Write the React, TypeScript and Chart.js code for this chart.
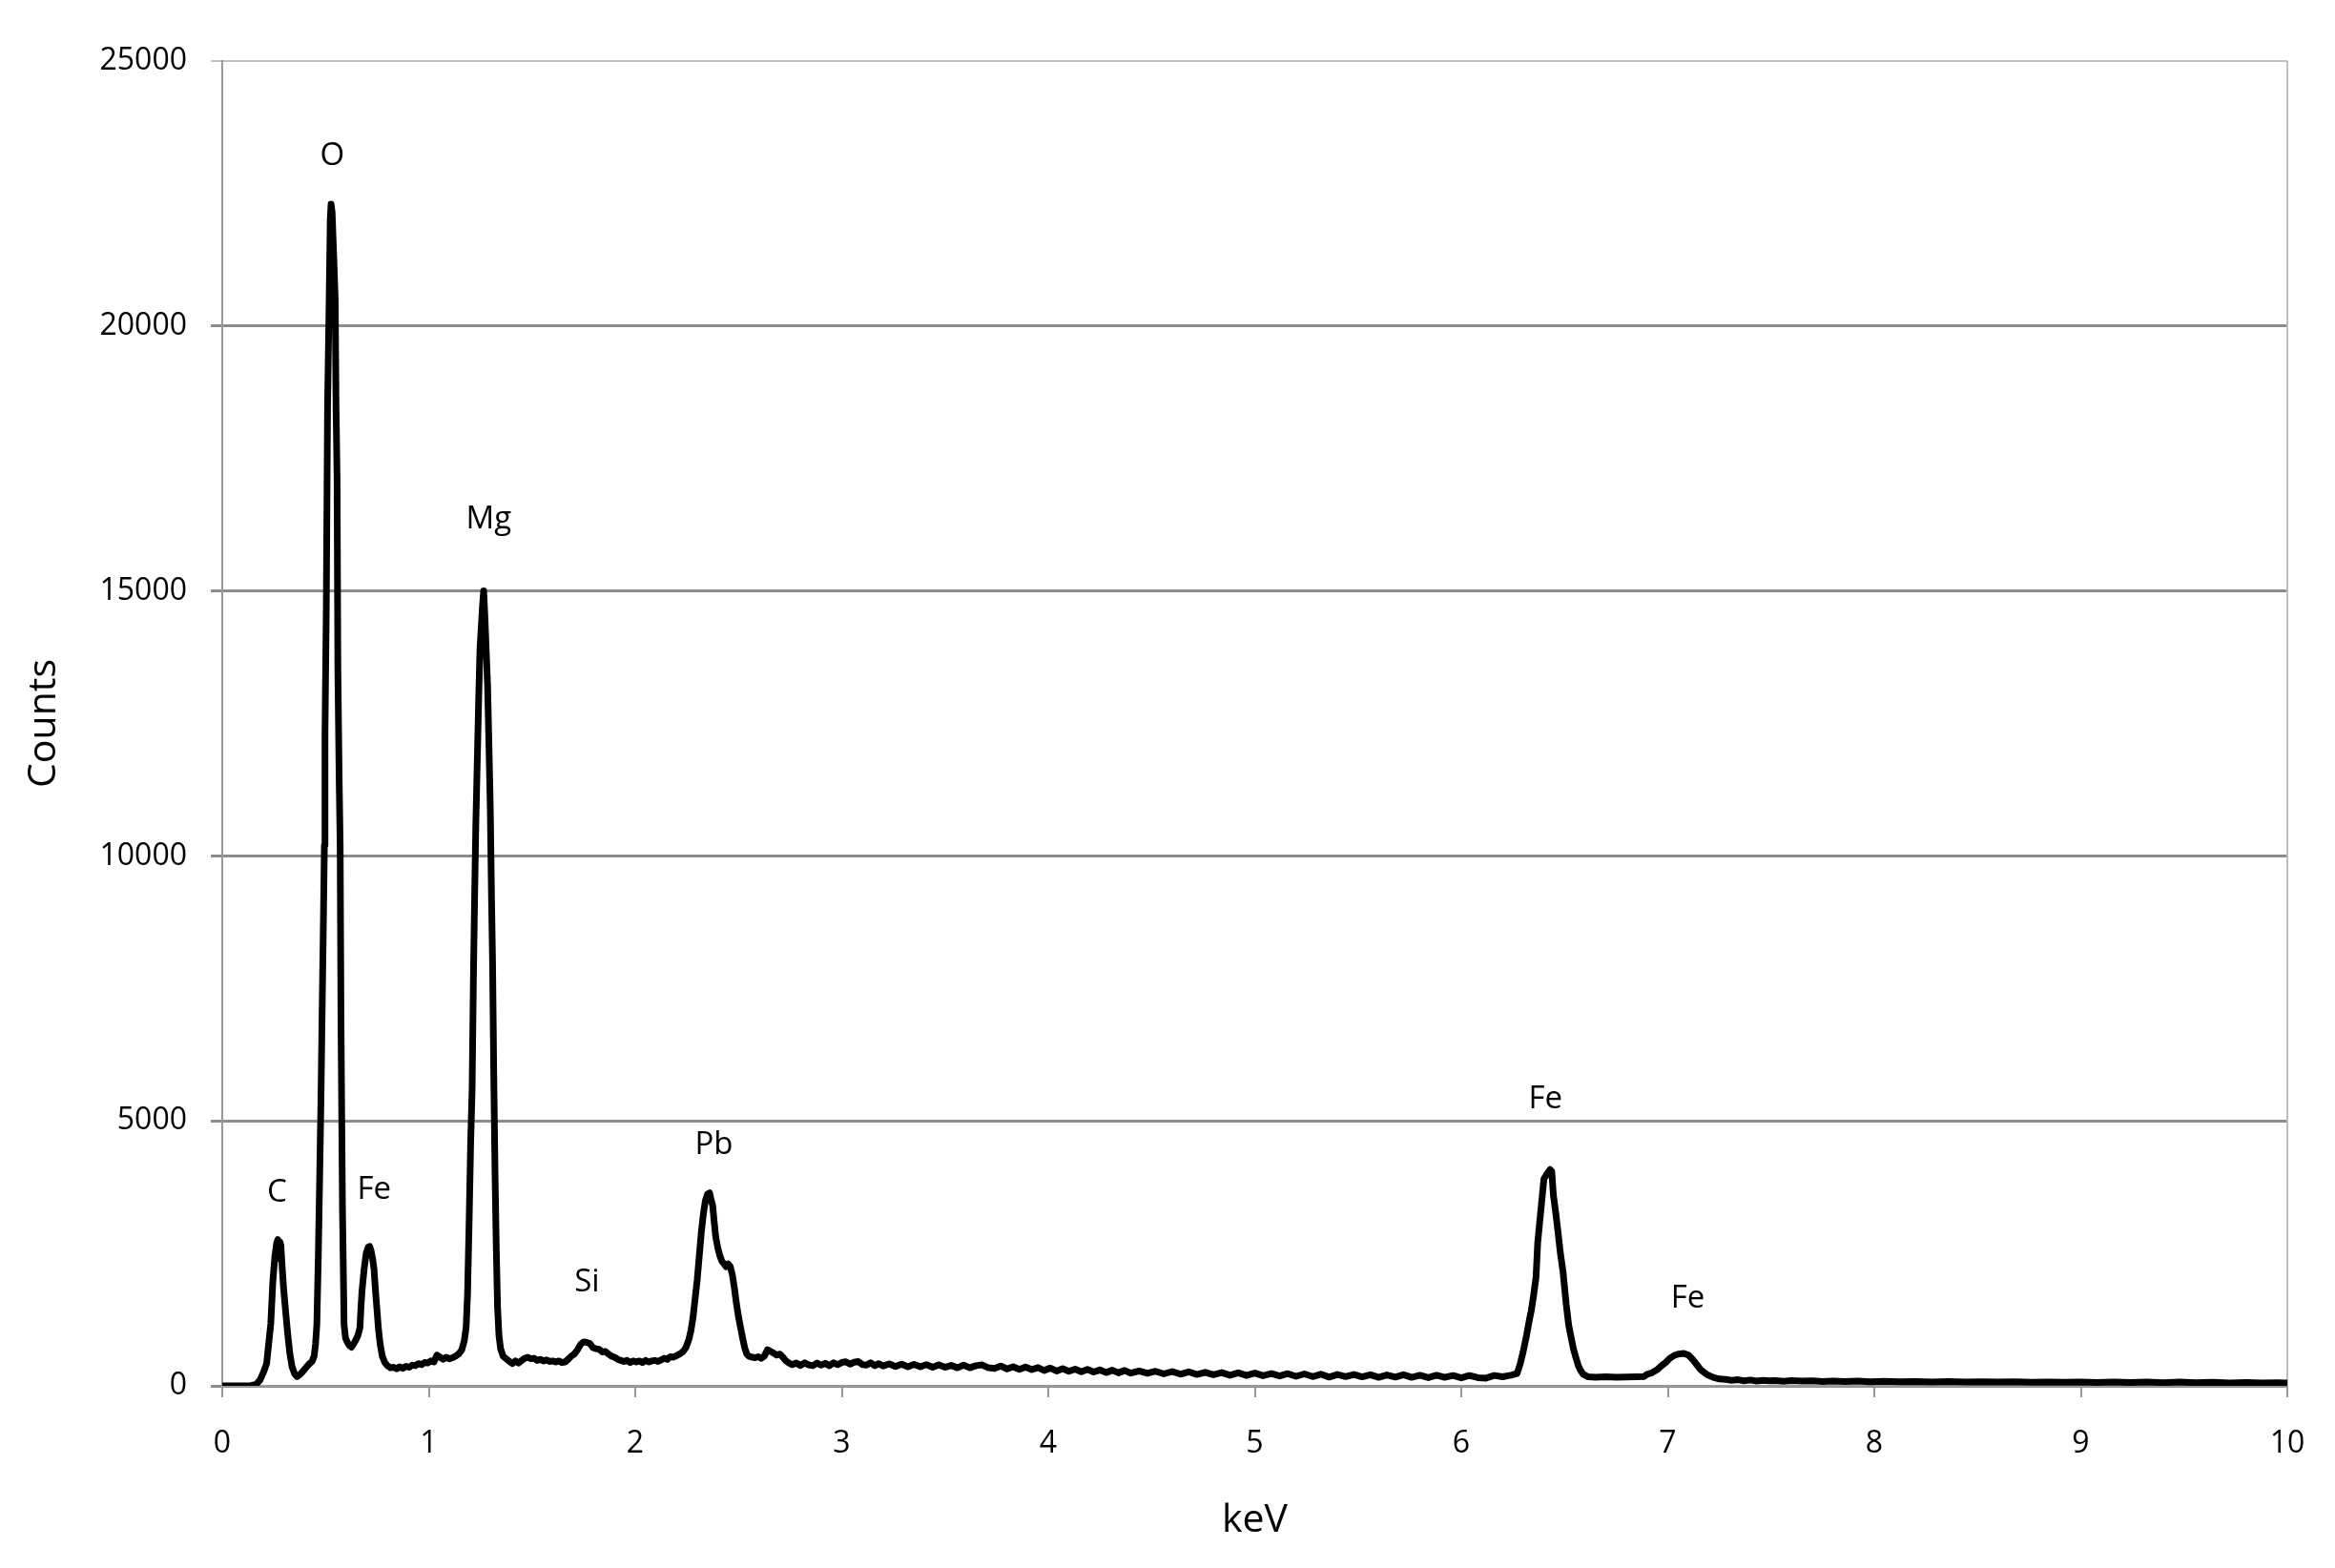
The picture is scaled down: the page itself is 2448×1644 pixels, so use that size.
import React, { useEffect, useRef } from 'react';
import { Chart, registerables } from 'chart.js';

Chart.register(...registerables);

const energyKeV = [
  0.0, 0.05, 0.1, 0.14, 0.165, 0.183, 0.2, 0.215, 0.225, 0.235, 0.245, 0.255, 0.263, 0.269, 0.274, 0.279, 0.284, 0.29, 0.297,
  0.307, 0.317, 0.327, 0.338, 0.35, 0.362, 0.375, 0.39, 0.405, 0.42, 0.435, 0.445, 0.452, 0.458, 0.465, 0.4715, 0.478,
  0.4836, 0.49, 0.4946, 0.4975, 0.504, 0.51, 0.5177, 0.523, 0.527, 0.532, 0.54, 0.547, 0.551, 0.556, 0.56, 0.566, 0.571,
  0.575, 0.582, 0.59, 0.597, 0.606, 0.616, 0.626, 0.636, 0.646, 0.657, 0.667, 0.672, 0.677, 0.687, 0.697, 0.707, 0.714,
  0.72, 0.728, 0.735, 0.742, 0.749, 0.757, 0.765, 0.775, 0.787, 0.8, 0.815, 0.83, 0.845, 0.86, 0.875, 0.89, 0.905, 0.92,
  0.935, 0.95, 0.965, 0.98, 0.995, 1.01, 1.025, 1.04, 1.055, 1.07, 1.085, 1.1, 1.115, 1.13, 1.145, 1.16, 1.172, 1.181,
  1.188, 1.195, 1.203, 1.21, 1.216, 1.222, 1.228, 1.235, 1.242, 1.248, 1.254, 1.26, 1.266, 1.272, 1.278, 1.285, 1.292,
  1.298, 1.304, 1.309, 1.315, 1.321, 1.327, 1.333, 1.34, 1.348, 1.36, 1.375, 1.39, 1.405, 1.42, 1.435, 1.45, 1.465, 1.48,
  1.495, 1.51, 1.525, 1.54, 1.555, 1.57, 1.585, 1.6, 1.615, 1.63, 1.645, 1.66, 1.675, 1.69, 1.705, 1.72, 1.735, 1.75,
  1.765, 1.78, 1.795, 1.81, 1.825, 1.84, 1.855, 1.87, 1.885, 1.9, 1.915, 1.93, 1.945, 1.96, 1.975, 1.99, 2.005, 2.02,
  2.035, 2.05, 2.065, 2.08, 2.095, 2.11, 2.125, 2.14, 2.155, 2.17, 2.185, 2.2, 2.215, 2.23, 2.245, 2.26, 2.27, 2.28, 2.29,
  2.3, 2.31, 2.32, 2.33, 2.34, 2.35, 2.36, 2.368, 2.375, 2.382, 2.39, 2.4, 2.41, 2.42, 2.43, 2.44, 2.45, 2.46, 2.47, 2.48,
  2.49, 2.5, 2.51, 2.52, 2.53, 2.54, 2.55, 2.565, 2.58, 2.595, 2.61, 2.625, 2.64, 2.655, 2.67, 2.685, 2.7, 2.715, 2.73,
  2.745, 2.76, 2.78, 2.8, 2.82, 2.84, 2.86, 2.88, 2.9, 2.92, 2.94, 2.96, 2.98, 3.0, 3.02, 3.04, 3.06, 3.08, 3.1, 3.12,
  3.14, 3.16, 3.18, 3.2, 3.23, 3.26, 3.29, 3.32, 3.35, 3.38, 3.41, 3.44, 3.47, 3.5, 3.53, 3.56, 3.59, 3.62, 3.65, 3.68,
  3.71, 3.74, 3.77, 3.8, 3.83, 3.86, 3.89, 3.92, 3.95, 3.98, 4.01, 4.04, 4.07, 4.1, 4.13, 4.16, 4.19, 4.22, 4.25, 4.28,
  4.31, 4.34, 4.37, 4.4, 4.44, 4.48, 4.52, 4.56, 4.6, 4.64, 4.68, 4.72, 4.76, 4.8, 4.84, 4.88, 4.92, 4.96, 5.0, 5.04,
  5.08, 5.12, 5.16, 5.2, 5.24, 5.28, 5.32, 5.36, 5.4, 5.44, 5.48, 5.52, 5.56, 5.6, 5.64, 5.68, 5.72, 5.76, 5.8, 5.84,
  5.88, 5.92, 5.96, 6.0, 6.04, 6.08, 6.12, 6.16, 6.2, 6.24, 6.27, 6.285, 6.3, 6.316, 6.33, 6.339, 6.35, 6.362, 6.37,
  6.385, 6.4, 6.415, 6.43, 6.438, 6.446, 6.458, 6.47, 6.48, 6.493, 6.508, 6.52, 6.53, 6.543, 6.555, 6.567, 6.578, 6.59,
  6.615, 6.65, 6.7, 6.75, 6.8, 6.85, 6.885, 6.9, 6.92, 6.947, 6.97, 6.99, 7.01, 7.03, 7.05, 7.078, 7.1, 7.12, 7.14, 7.16,
  7.19, 7.22, 7.25, 7.28, 7.31, 7.34, 7.37, 7.4, 7.43, 7.46, 7.49, 7.52, 7.56, 7.6, 7.65, 7.7, 7.75, 7.8, 7.86, 7.92,
  7.98, 8.05, 8.12, 8.2, 8.28, 8.36, 8.44, 8.52, 8.6, 8.68, 8.76, 8.84, 8.92, 9.0, 9.08, 9.16, 9.24, 9.32, 9.4, 9.48,
  9.56, 9.64, 9.72, 9.8, 9.88, 9.95, 10.0,
];

const counts = [
  0, 0, 0, 5, 30, 110, 260, 420, 800, 1170, 1970, 2450, 2680, 2760, 2400, 2720, 2650, 2250, 1850,
  1400, 980, 620, 360, 230, 175, 210, 270, 340, 410, 460, 560, 800, 1150, 2400, 3870, 5400,
  7040, 8800, 10200, 12300, 14750, 18500, 20500, 22000, 22300, 22150, 21300, 20500, 18500, 17150, 13500, 11500, 10200,
  6900, 3400, 1150, 900, 820, 760, 730, 790, 860, 950, 1100, 1500, 1800, 2200, 2500, 2620, 2630,
  2560, 2400, 2200, 1800, 1450, 1050, 780, 560, 440, 380, 340, 350, 320, 360, 330, 370, 350, 390,
  380, 420, 400, 440, 430, 470, 450, 580, 540, 500, 540, 510, 530, 560, 600, 680, 850, 1100,
  1750, 3000, 4600, 5600, 7600, 9200, 10600, 11800, 13000, 13900, 14300, 14700, 15000, 14500, 13900, 13200, 12000,
  10900, 9200, 8000, 5800, 4000, 2600, 1500, 950, 700, 560, 510, 460, 420, 470, 430, 480, 520, 540,
  510, 520, 480, 500, 470, 490, 460, 470, 450, 470, 440, 450, 500, 560, 600, 680, 780, 830,
  820, 800, 720, 700, 690, 640, 650, 600, 560, 540, 500, 480, 460, 480, 440, 470, 450, 470,
  440, 480, 450, 470, 480, 460, 490, 520, 500, 550, 540, 570, 600, 640, 720, 880, 1050, 1300, 1650,
  2000, 2450, 2900, 3250, 3500, 3620, 3640, 3500, 3400, 3100, 2800, 2600, 2450, 2350, 2300, 2250, 2300, 2250, 2100, 1850,
  1550, 1300, 1100, 900, 720, 600, 560, 540, 530, 550, 520, 560, 680, 650, 620, 580, 600, 540, 470,
  430, 400, 430, 385, 435, 395, 380, 430, 390, 425, 380, 435, 400, 440, 455, 410, 445, 460, 400, 390,
  435, 380, 420, 375, 415, 365, 410, 360, 405, 360, 400, 350, 395, 350, 385, 340, 390, 340, 380, 395,
  340, 330, 375, 320, 360, 310, 355, 305, 345, 290, 335, 280, 325, 275, 315, 265, 310, 260, 300, 250,
  295, 245, 290, 240, 280, 235, 275, 225, 270, 220, 265, 215, 255, 210, 250, 200, 245, 195, 240, 190,
  230, 185, 230, 180, 225, 175, 220, 165, 215, 175, 215, 170, 210, 160, 205, 165, 210, 160, 200, 155,
  200, 160, 195, 150, 195, 155, 145, 195, 170, 200, 230, 410, 650, 950, 1250, 1420, 1700, 2050, 2700,
  3300, 3900, 4000, 4080, 4050, 3600, 3250, 2850, 2500, 2140, 1540, 1150, 950, 700, 530, 380, 290, 220,
  170, 160, 170, 160, 165, 170, 175, 220, 240, 300, 380, 440, 520, 570, 600, 610, 580, 500, 400, 300,
  210, 160, 130, 120, 105, 115, 95, 110, 90, 105, 95, 100, 85, 98, 88, 95, 82, 92, 80, 88,
  78, 85, 76, 82, 74, 80, 72, 78, 70, 76, 68, 74, 66, 72, 64, 70, 62, 72, 60, 70,
  58, 66, 56, 62, 55, 58, 55,
];

// Peak annotations
const peakLabels = ['C', 'O', 'Fe', 'Mg', 'Si', 'Pb', 'Fe', 'Fe'];
const peakLabelKeV = [0.265, 0.533, 0.736, 1.29, 1.766, 2.381, 6.408, 7.097];
const peakLabelCounts = [3650, 23200, 3700, 16350, 1950, 4550, 5400, 1650];

// Axis settings
const xMin = 0;
const xMax = 10;
const xStep = 1;
const yMin = 0;
const yMax = 25000;
const yStep = 5000;
const xTitle = 'keV';
const yTitle = 'Counts';

const FONT = "'Open Sans', 'Liberation Sans', sans-serif";

export default function App() {
  const canvasRef = useRef<HTMLCanvasElement | null>(null);

  useEffect(() => {
    document.body.style.margin = '0';
    const canvas = canvasRef.current;
    if (!canvas) return;

    const points = energyKeV.map((x, i) => ({ x, y: counts[i] }));

    const annotationPlugin = {
      id: 'peakAnnotations',
      afterDatasetsDraw(chart: any) {
        const { ctx, scales } = chart;
        ctx.save();
        ctx.fillStyle = '#000';
        ctx.font = `33px ${FONT}`;
        ctx.textAlign = 'center';
        ctx.textBaseline = 'middle';
        peakLabels.forEach((t, i) => {
          const px = scales.x.getPixelForValue(peakLabelKeV[i]);
          const py = scales.y.getPixelForValue(peakLabelCounts[i]);
          ctx.fillText(t, px, py);
        });
        ctx.restore();
      },
    };

    const borderPlugin = {
      id: 'rightBorder',
      beforeDatasetsDraw(chart: any) {
        const { ctx, chartArea } = chart;
        ctx.save();
        ctx.strokeStyle = '#bfbfbf';
        ctx.lineWidth = 2;
        ctx.beginPath();
        ctx.moveTo(chartArea.right, chartArea.top);
        ctx.lineTo(chartArea.right, chartArea.bottom);
        ctx.stroke();
        ctx.restore();
      },
    };

    const chart = new Chart(canvas, {
      type: 'line',
      data: {
        datasets: [
          {
            data: points,
            borderColor: '#000',
            borderWidth: 7,
            pointRadius: 0,
            tension: 0,
            fill: false,
            borderJoinStyle: 'round',
            borderCapStyle: 'round',
          },
        ],
      },
      options: {
        animation: false,
        responsive: false,
        maintainAspectRatio: false,
        parsing: false as any,
        layout: { padding: { top: 64, right: 50, left: 0, bottom: 0 } },
        plugins: {
          legend: { display: false },
          tooltip: { enabled: false },
        },
        scales: {
          x: {
            type: 'linear',
            min: xMin,
            max: xMax,
            ticks: {
              stepSize: xStep,
              color: '#000',
              font: { family: FONT, size: 32 },
              padding: 30,
              maxRotation: 0,
              callback: (v: any) => String(v),
            },
            grid: {
              display: true,
              drawOnChartArea: false,
              drawTicks: true,
              tickLength: 12,
              color: '#999',
              lineWidth: 2,
            },
            border: { display: true, color: '#999', width: 2 },
            title: {
              display: true,
              text: xTitle,
              color: '#000',
              font: { family: FONT, size: 41 },
              padding: { top: 0, bottom: 25 },
            },
            afterFit: (s: any) => {
              s.height = 191;
            },
          },
          y: {
            type: 'linear',
            min: yMin,
            max: yMax,
            ticks: {
              stepSize: yStep,
              color: '#000',
              font: { family: FONT, size: 32 },
              padding: 25,
              callback: (v: any) => String(v),
            },
            grid: {
              display: true,
              drawOnChartArea: true,
              drawTicks: true,
              tickLength: 12,
              color: (c: any) => (c.tick && c.tick.value === yMax ? '#c0c0c0' : '#8c8c8c'),
              lineWidth: (c: any) => (c.tick && c.tick.value === yMax ? 2 : 3),
            },
            border: { display: true, color: '#999', width: 2 },
            title: {
              display: true,
              text: yTitle,
              color: '#000',
              font: { family: FONT, size: 41 },
              padding: { top: 22, bottom: 0 },
            },
            afterFit: (s: any) => {
              s.width = 233;
            },
          },
        },
      },
      plugins: [borderPlugin, annotationPlugin],
    });

    return () => {
      chart.destroy();
    };
  }, []);

  return (
    <div style={{ position: 'absolute', left: 0, top: 0, width: 2448, height: 1644, background: '#fff' }}>
      <canvas ref={canvasRef} width={2448} height={1644} style={{ width: 2448, height: 1644, display: 'block' }} />
    </div>
  );
}
